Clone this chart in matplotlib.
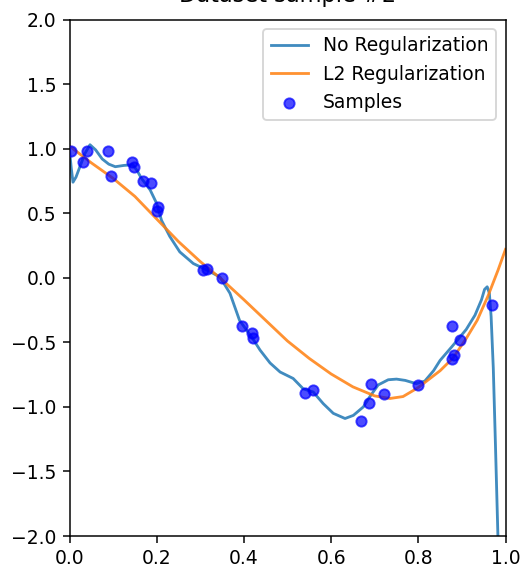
import numpy as np
import matplotlib
matplotlib.use("Agg")
import matplotlib.pyplot as plt

# samples
sample_x = [0.003, 0.031, 0.040, 0.088, 0.095, 0.143, 0.148, 0.169, 0.187, 0.203,
            0.201, 0.306, 0.315, 0.350, 0.396, 0.419, 0.421, 0.540, 0.558, 0.669,
            0.687, 0.692, 0.721, 0.799, 0.877, 0.896, 0.877, 0.881, 0.969]
sample_y = [0.98, 0.90, 0.98, 0.98, 0.79, 0.90, 0.86, 0.75, 0.73, 0.55,
            0.52, 0.06, 0.07, 0.00, -0.37, -0.43, -0.47, -0.89, -0.87, -1.11,
            -0.97, -0.82, -0.90, -0.83, -0.37, -0.48, -0.63, -0.60, -0.21]

# fit without regularization (wiggly)
noreg_x = [0.000, 0.004, 0.008, 0.015, 0.025, 0.035, 0.047, 0.060, 0.075, 0.090,
           0.105, 0.125, 0.145, 0.155, 0.165, 0.185, 0.200, 0.211, 0.230, 0.253,
           0.284, 0.315, 0.345, 0.368, 0.390, 0.420, 0.437, 0.460, 0.483, 0.513,
           0.536, 0.559, 0.582, 0.605, 0.632, 0.651, 0.674, 0.689, 0.708, 0.731,
           0.750, 0.770, 0.795, 0.815, 0.835, 0.850, 0.878, 0.910, 0.930, 0.945,
           0.952, 0.958, 0.963, 0.967, 0.972, 0.977, 0.983]
noreg_y = [0.99, 0.85, 0.74, 0.78, 0.87, 0.96, 1.03, 0.99, 0.92, 0.88,
           0.86, 0.87, 0.875, 0.83, 0.77, 0.68, 0.575, 0.445, 0.32, 0.20,
           0.11, 0.06, 0.006, -0.12, -0.33, -0.47, -0.56, -0.66, -0.73, -0.78,
           -0.86, -0.885, -0.975, -1.05, -1.09, -1.066, -1.00, -0.92, -0.83, -0.79,
           -0.785, -0.795, -0.82, -0.80, -0.72, -0.64, -0.53, -0.40, -0.29, -0.17,
           -0.09, -0.07, -0.12, -0.30, -0.70, -1.30, -2.05]

# fit with L2 regularization (smooth)
l2_x = [0.00, 0.05, 0.10, 0.15, 0.20, 0.25, 0.30, 0.35, 0.40, 0.45, 0.50, 0.55,
        0.60, 0.65, 0.70, 0.735, 0.765, 0.80, 0.85, 0.88, 0.91, 0.935, 0.96,
        0.983, 1.00]
l2_y = [1.02, 0.89, 0.77, 0.63, 0.455, 0.28, 0.125, -0.015, -0.17, -0.33, -0.49,
        -0.625, -0.745, -0.845, -0.915, -0.935, -0.92, -0.85, -0.72, -0.62, -0.47,
        -0.33, -0.14, 0.06, 0.22]

fig = plt.figure(figsize=(521 / 135, 571 / 135), dpi=135)
ax = fig.add_axes([69.5 / 521, 1 - 536 / 571, 436 / 521, 516.5 / 571])

ax.plot(noreg_x, noreg_y, color="C0", alpha=0.85, label="No Regularization")
ax.plot(l2_x, l2_y, color="C1", alpha=0.85, label="L2 Regularization")
ax.scatter(sample_x, sample_y, s=30, color="blue", alpha=0.7, zorder=3, label="Samples")

ax.set_xlim(0, 1)
ax.set_ylim(-2, 2)
# title sits mostly above the top edge, as in the reference
ax.set_title("Dataset sample #2", pad=9.5)
ax.legend(loc="upper right")

fig.savefig("out.png", dpi=135)
